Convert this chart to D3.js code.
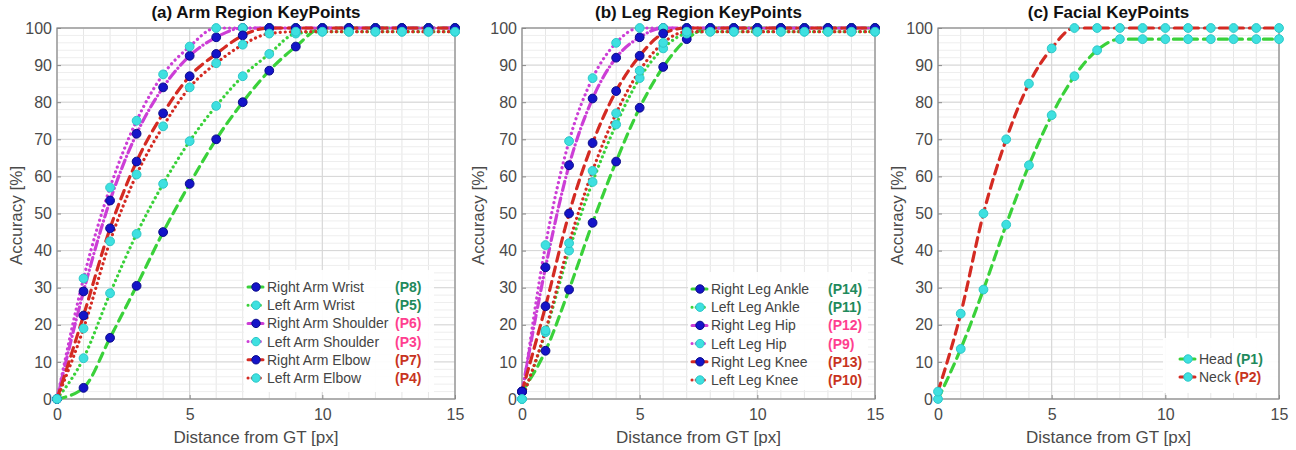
<!DOCTYPE html>
<html>
<head>
<meta charset="utf-8">
<script src="https://cdn.jsdelivr.net/npm/d3@7"></script>
<style>
  body { margin: 0; background: #fff; }
  text { font-family: "Liberation Sans", Arial, sans-serif; }
</style>
</head>
<body>
<svg id="chart" width="1296" height="450"></svg>
<script>
// distance from ground truth [px]
var dist = [0, 1, 2, 3, 4, 5, 6, 7, 8, 9, 10, 11, 12, 13, 14, 15];
var xTicks = [0, 5, 10, 15];
var yTicks = [0, 10, 20, 30, 40, 50, 60, 70, 80, 90, 100];

// (a) arm
var rightArmWrist    = [0, 3, 16.5, 30.5, 45, 58, 70, 80, 88.5, 95, 100, 100, 100, 100, 100, 100];
var leftArmWrist     = [0, 11, 28.5, 44.5, 58, 69.5, 79, 87, 93, 98.5, 99, 99, 99, 99, 99, 99];
var rightArmShoulder = [0, 29, 53.5, 71.5, 84, 92.5, 97.5, 100, 100, 100, 100, 100, 100, 100, 100, 100];
var leftArmShoulder  = [0, 32.5, 57, 75, 87.5, 95, 100, 100, 100, 100, 100, 100, 100, 100, 100, 100];
var rightArmElbow    = [0, 22.5, 46, 64, 77, 87, 93, 98, 100, 100, 100, 100, 100, 100, 100, 100];
var leftArmElbow     = [0, 19, 42.5, 60.5, 73.5, 84, 90.5, 95.5, 98.5, 99, 99, 99, 99, 99, 99, 99];

// (b) leg
var rightLegAnkle = [2, 13, 29.5, 47.5, 64, 78.5, 89.5, 97, 100, 100, 100, 100, 100, 100, 100, 100];
var leftLegAnkle  = [0, 18, 40, 58.5, 74, 86.5, 94.5, 98.5, 99, 99, 99, 99, 99, 99, 99, 99];
var rightLegHip   = [2, 35.5, 63, 81, 92, 97.5, 100, 100, 100, 100, 100, 100, 100, 100, 100, 100];
var leftLegHip    = [0, 41.5, 69.5, 86.5, 96, 100, 100, 100, 100, 100, 100, 100, 100, 100, 100, 100];
var rightLegKnee  = [2, 25, 50, 69, 83, 92.5, 98.5, 100, 100, 100, 100, 100, 100, 100, 100, 100];
var leftLegKnee   = [0, 18.5, 42, 61.5, 77, 88.5, 96, 99, 99, 99, 99, 99, 99, 99, 99, 99];

// (c) face
var head = [0, 13.5, 29.5, 47, 63, 76.5, 87, 94, 97, 97, 97, 97, 97, 97, 97, 97];
var neck = [2, 23, 50, 70, 85, 94.5, 100, 100, 100, 100, 100, 100, 100, 100, 100, 100];

//Colors
var GREEN = "#3ad13a", MAGENTA = "#cc3ed6", RED = "#d42a22";
var BLUE = "#1414c8", CYAN = "#3ee0e0";
var PGREEN = "#1f8a5c", PPINK = "#ff3f8f", PRED = "#c8341e";

//Line styles
var DASH = "9,6", DOT = "0.1,5", DASHDOT = "9,4,0.1,4";

var panels = [
  {title: "(a) Arm Region KeyPoints", left: 57, right: 455, yLab: 16,
   legend: {x: 244, y: 270, w: 190, h: 122},
   series: [
     {name: "Right Arm Wrist", tag: "(P8)", tagColor: PGREEN, vals: rightArmWrist, color: GREEN, dash: DASH, marker: BLUE},
     {name: "Left Arm Wrist", tag: "(P5)", tagColor: PGREEN, vals: leftArmWrist, color: GREEN, dash: DOT, marker: CYAN},
     {name: "Right Arm Shoulder", tag: "(P6)", tagColor: PPINK, vals: rightArmShoulder, color: MAGENTA, dash: DASHDOT, marker: BLUE},
     {name: "Left Arm Shoulder", tag: "(P3)", tagColor: PPINK, vals: leftArmShoulder, color: MAGENTA, dash: DOT, marker: CYAN},
     {name: "Right Arm Elbow", tag: "(P7)", tagColor: PRED, vals: rightArmElbow, color: RED, dash: DASH, marker: BLUE},
     {name: "Left Arm Elbow", tag: "(P4)", tagColor: PRED, vals: leftArmElbow, color: RED, dash: DOT, marker: CYAN}
   ]},
  {title: "(b) Leg Region KeyPoints", left: 522, right: 875, yLab: 478,
   legend: {x: 688, y: 272, w: 180, h: 118},
   series: [
     {name: "Right Leg Ankle", tag: "(P14)", tagColor: PGREEN, vals: rightLegAnkle, color: GREEN, dash: DASH, marker: BLUE},
     {name: "Left Leg Ankle", tag: "(P11)", tagColor: PGREEN, vals: leftLegAnkle, color: GREEN, dash: DOT, marker: CYAN},
     {name: "Right Leg Hip", tag: "(P12)", tagColor: PPINK, vals: rightLegHip, color: MAGENTA, dash: DASHDOT, marker: BLUE},
     {name: "Left Leg Hip", tag: "(P9)", tagColor: PPINK, vals: leftLegHip, color: MAGENTA, dash: DOT, marker: CYAN},
     {name: "Right Leg Knee", tag: "(P13)", tagColor: PRED, vals: rightLegKnee, color: RED, dash: DASH, marker: BLUE},
     {name: "Left Leg Knee", tag: "(P10)", tagColor: PRED, vals: leftLegKnee, color: RED, dash: DOT, marker: CYAN}
   ]},
  {title: "(c) Facial KeyPoints", left: 938, right: 1279, yLab: 897,
   legend: {x: 1163, y: 338, w: 115, h: 55}, inline: true,
   series: [
     {name: "Head", tag: "(P1)", tagColor: PGREEN, vals: head, color: GREEN, dash: DASH, marker: CYAN},
     {name: "Neck", tag: "(P2)", tagColor: PRED, vals: neck, color: RED, dash: DASH, marker: CYAN}
   ]}
];

var svg = d3.select("#chart");
var top0 = 28, bottom0 = 399;

panels.forEach(function (p) {
  var x = d3.scaleLinear().domain([0, 15]).range([p.left, p.right]);
  var y = d3.scaleLinear().domain([0, 100]).range([bottom0, top0]);
  var g = svg.append("g");

  //Grid (minor then major)
  g.selectAll(".gxm").data(d3.range(0, 15.01, 1)).enter().append("line")
    .attr("x1", x).attr("x2", x).attr("y1", top0).attr("y2", bottom0)
    .attr("stroke", "#e6e6e6").attr("stroke-width", 1);
  g.selectAll(".gym").data(d3.range(0, 100.01, 2)).enter().append("line")
    .attr("y1", y).attr("y2", y).attr("x1", p.left).attr("x2", p.right)
    .attr("stroke", "#eeeeee").attr("stroke-width", 1);
  g.selectAll(".gx").data(xTicks).enter().append("line")
    .attr("x1", x).attr("x2", x).attr("y1", top0).attr("y2", bottom0)
    .attr("stroke", "#d6d6d6").attr("stroke-width", 1);
  g.selectAll(".gy").data(yTicks).enter().append("line")
    .attr("y1", y).attr("y2", y).attr("x1", p.left).attr("x2", p.right)
    .attr("stroke", "#d6d6d6").attr("stroke-width", 1);

  //Axes
  var xAxis = d3.axisBottom(x).tickValues(xTicks).tickSize(-4).tickPadding(10);
  var yAxis = d3.axisLeft(y).tickValues(yTicks).tickSize(-4).tickPadding(5);
  var xa = g.append("g").attr("transform", "translate(0," + bottom0 + ")").call(xAxis);
  var ya = g.append("g").attr("transform", "translate(" + p.left + ",0)").call(yAxis);
  [xa, ya].forEach(function (a) {
    a.select(".domain").remove();
    a.selectAll("line").attr("stroke", "#8a8a8a");
    a.selectAll("text").attr("font-size", 16).attr("fill", "#4a4a4a")
      .style("font-family", "'Liberation Sans', Arial, sans-serif");
  });
  g.append("rect").attr("x", p.left).attr("y", top0)
    .attr("width", p.right - p.left).attr("height", bottom0 - top0)
    .attr("fill", "none").attr("stroke", "#8a8a8a").attr("stroke-width", 1.2);

  //Legend background (drawn under the curves like the picture)
  g.append("rect").attr("x", p.legend.x).attr("y", p.legend.y)
    .attr("width", p.legend.w).attr("height", p.legend.h)
    .attr("fill", "#ffffff").attr("opacity", 0.92);

  //Curves
  var line = d3.line()
    .x(function (d, i) { return x(dist[i]); })
    .y(function (d) { return y(d); })
    .curve(d3.curveMonotoneX);
  p.series.forEach(function (s) {
    g.append("path").datum(s.vals).attr("d", line)
      .attr("fill", "none").attr("stroke", s.color).attr("stroke-width", 3.2)
      .attr("stroke-dasharray", s.dash).attr("stroke-linecap", "round");
  });
  p.series.forEach(function (s) {
    g.selectAll(null).data(s.vals).enter().append("circle")
      .attr("cx", function (d, i) { return x(dist[i]); })
      .attr("cy", function (d) { return y(d); })
      .attr("r", 4.4)
      .attr("fill", s.marker)
      .attr("stroke", s.marker === BLUE ? "#0a0a8a" : "#2cc8c8").attr("stroke-width", 1);
  });

  //Legend entries
  p.series.forEach(function (s, i) {
    var ly = p.inline ? p.legend.y + 21 + i * 18 : p.legend.y + 17 + i * 18.2;
    var lx = p.legend.x + (p.inline ? 17 : 4);
    g.append("line").attr("x1", lx).attr("x2", lx + 15).attr("y1", ly).attr("y2", ly)
      .attr("stroke", s.color).attr("stroke-width", 3)
      .attr("stroke-dasharray", s.dash === DOT ? "0.1,4" : (s.dash === DASHDOT ? "5,3,0.1,3" : "6,3"))
      .attr("stroke-linecap", "round");
    g.append("circle").attr("cx", lx + 8).attr("cy", ly).attr("r", 4.2)
      .attr("fill", s.marker).attr("stroke", s.marker === BLUE ? "#0a0a8a" : "#2cc8c8");
    var t = g.append("text").attr("x", lx + 19).attr("y", ly + 5)
      .attr("font-size", 14).attr("fill", "#444").text(s.name);
    if (p.inline) {
      t.append("tspan").attr("fill", s.tagColor).attr("font-weight", "bold").text(" " + s.tag);
    } else {
      g.append("text").attr("x", p.legend.x + (p === panels[0] ? 151 : 140)).attr("y", ly + 5)
        .attr("font-size", 14).attr("font-weight", "bold").attr("fill", s.tagColor).text(s.tag);
    }
  });

  //Titles and labels
  g.append("text").attr("x", (p.left + p.right) / 2).attr("y", 18)
    .attr("text-anchor", "middle").attr("font-size", 17).attr("font-weight", "bold")
    .attr("fill", "#111").text(p.title);
  g.append("text").attr("x", (p.left + p.right) / 2).attr("y", 443)
    .attr("text-anchor", "middle").attr("font-size", 17).attr("fill", "#4a4a4a")
    .text("Distance from GT [px]");
  g.append("text").attr("transform", "translate(" + (p.yLab + 6) + "," + ((top0 + bottom0) / 2 + 2) + ") rotate(-90)")
    .attr("text-anchor", "middle").attr("font-size", 17).attr("fill", "#4a4a4a")
    .text("Accuracy [%]");
});
</script>
</body>
</html>
